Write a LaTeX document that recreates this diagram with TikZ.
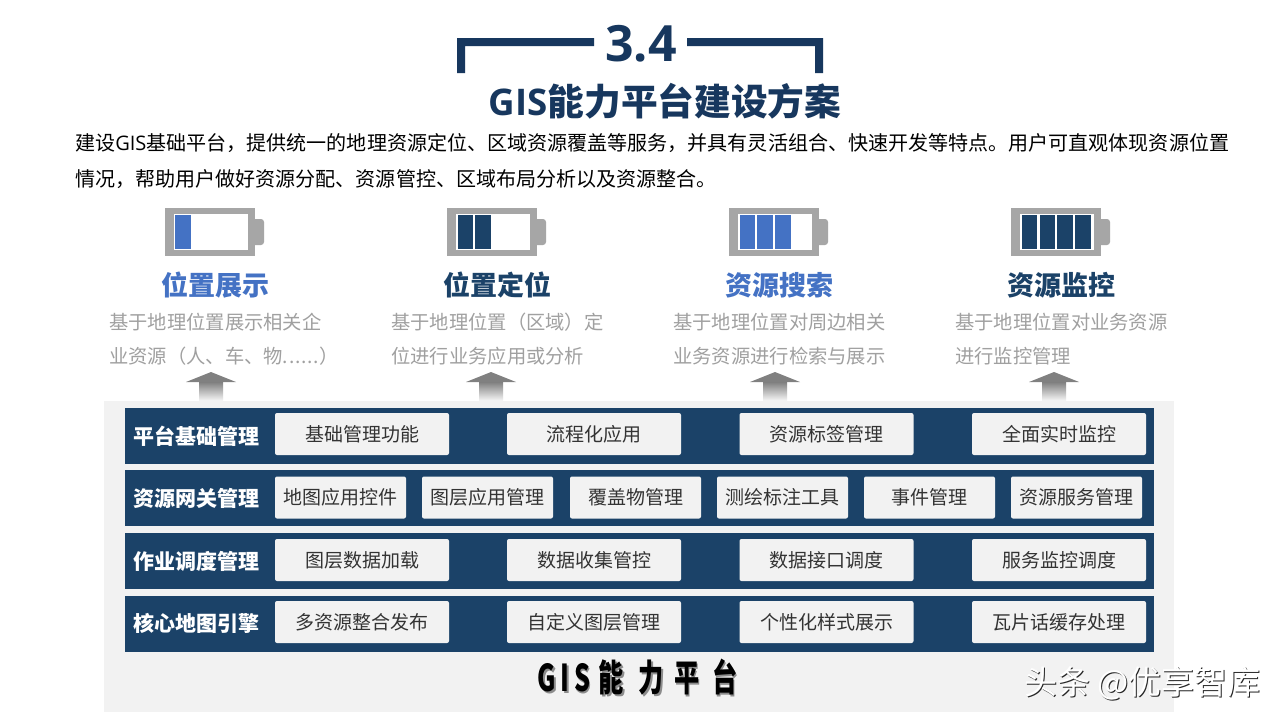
\documentclass[tikz,border=0pt]{standalone}
\usepackage{fontspec}
\usepackage{xcolor}
\setmainfont{Noto Sans CJK SC}
\newfontfamily\latinfont{Open Sans}
\usetikzlibrary{positioning}
\definecolor{navy}{HTML}{1B4268}
\definecolor{titleC}{HTML}{17375E}
\definecolor{blueC}{HTML}{4472C4}
\definecolor{battG}{HTML}{A6A6A6}
\definecolor{descG}{HTML}{A0A0A0}
\definecolor{panelG}{HTML}{F2F2F2}
\newcommand{\fsize}[1]{\fontsize{#1}{#1}\selectfont}
\newcommand{\foottext}{\scalebox{0.68}[1]{G\hspace{7pt}I\hspace{7pt}S\hspace{12pt}能\hspace{22pt}力\hspace{15pt}平\hspace{19pt}台}}
\tikzset{
  headB/.style={font=\fsize{27}\bfseries, text=blueC, inner sep=0pt},
  headN/.style={font=\fsize{27}\bfseries, text=navy, inner sep=0pt},
  desc/.style={font=\fsize{19.3}, text=descG, anchor=west, inner sep=0pt},
  para/.style={font=\fsize{20.05}, text=black, anchor=west, inner sep=0pt},
  rowlabel/.style={font=\fsize{21}\bfseries, text=white, anchor=west, inner sep=0pt},
  wide/.style={fill=panelG, rounded corners=2pt, minimum width=174, minimum height=42, inner sep=0pt, font=\fsize{19}, text=black!80},
  narrow/.style={wide, minimum width=131},
  band/.style={fill=navy},
  batt/.style={fill=battG}
}
\begin{document}
\begin{tikzpicture}[x=1pt, y=-1pt]
\useasboundingbox (0,0) rectangle (1280,720);
\fill[white] (0,0) rectangle (1280,720);
% heading
\fill[titleC] (457,73) -- (457,38) -- (594,38) -- (594,46) -- (465,46) -- (465,73) -- cycle;
\fill[titleC] (823,73) -- (823,38) -- (687,38) -- (687,46) -- (815,46) -- (815,73) -- cycle;
\node[font=\fsize{50}\latinfont\bfseries, text=titleC, inner sep=0pt] (num) at (641,44) {3.4};
\node[font=\fsize{36.7}\bfseries, text=titleC, inner sep=0pt] (title) at (665,101) {{\latinfont GIS}能力平台建设方案};
\node[para] (para1) at (75,143) {建设{\latinfont GIS}基础平台，提供统一的地理资源定位、区域资源覆盖等服务，并具有灵活组合、快速开发等特点。用户可直观体现资源位置};
\node[para] (para2) at (75,179) {情况，帮助用户做好资源分配、资源管控、区域布局分析以及资源整合。};
% batteries
\fill[batt] (165,208) rectangle (255,256); \fill[batt, rounded corners=3pt] (250,219) rectangle (264,245);
\fill[white] (174,214) rectangle (248,250);
\fill[blueC] (175,215) rectangle (191,249);
\fill[batt] (447,208) rectangle (537,256); \fill[batt, rounded corners=3pt] (532,219) rectangle (546,245);
\fill[white] (456,214) rectangle (530,250);
\fill[navy] (458,215) rectangle (473,249); \fill[navy] (475,215) rectangle (491,249);
\fill[batt] (729,208) rectangle (819,256); \fill[batt, rounded corners=3pt] (814,219) rectangle (828,245);
\fill[white] (738,214) rectangle (812,250);
\fill[blueC] (740,215) rectangle (755,249); \fill[blueC] (757,215) rectangle (773,249); \fill[blueC] (775,215) rectangle (791,249);
\fill[batt] (1011,208) rectangle (1101,256); \fill[batt, rounded corners=3pt] (1096,219) rectangle (1110,245);
\fill[white] (1020,214) rectangle (1094,250);
\fill[navy] (1022,215) rectangle (1037,249); \fill[navy] (1040,215) rectangle (1055,249);
\fill[navy] (1057,215) rectangle (1073,249); \fill[navy] (1075,215) rectangle (1091,249);
% columns
\node[headB] (head1) at (215,285) {位置展示};
\node[headN] (head2) at (497,285) {位置定位};
\node[headB] (head3) at (779,285) {资源搜索};
\node[headN] (head4) at (1061,285) {资源监控};
\node[desc] (d1a) at (109,322) {基于地理位置展示相关企};
\node[desc] (d1b) at (109,356.5) {业资源（人、车、物{\addfontfeature{LetterSpace=4.3}......}）};
\node[desc] (d2a) at (391,322) {基于地理位置（区域）定};
\node[desc] (d2b) at (391,356.5) {位进行业务应用或分析};
\node[desc] (d3a) at (673,322) {基于地理位置对周边相关};
\node[desc] (d3b) at (673,356.5) {业务资源进行检索与展示};
\node[desc] (d4a) at (955,322) {基于地理位置对业务资源};
\node[desc] (d4b) at (955,356.5) {进行监控管理};
% panel
\fill[panelG] (104,401) rectangle (1174,712);
% arrows
\fill[black!50] (211,372) -- (236,382) -- (186,382) -- cycle;
\shade[top color=black!50, bottom color=panelG] (199,382) rectangle (223,400);
\fill[black!50] (491,372) -- (516,382) -- (466,382) -- cycle;
\shade[top color=black!50, bottom color=panelG] (479,382) rectangle (503,400);
\fill[black!50] (775,372) -- (800,382) -- (750,382) -- cycle;
\shade[top color=black!50, bottom color=panelG] (763,382) rectangle (787,400);
\fill[black!50] (1054,372) -- (1079,382) -- (1029,382) -- cycle;
\shade[top color=black!50, bottom color=panelG] (1042,382) rectangle (1066,400);
% rows
\fill[band] (125,408) rectangle (1154,464);
\fill[band] (125,470) rectangle (1154,526);
\fill[band] (125,533) rectangle (1154,589);
\fill[band] (125,596) rectangle (1154,652);
\node[rowlabel] (row1) at (133,436) {平台基础管理};
\node[rowlabel] (row2) at (133,498) {资源网关管理};
\node[rowlabel] (row3) at (133,561) {作业调度管理};
\node[rowlabel] (row4) at (133,623) {核心地图引擎};
\node[wide] (a1) at (362,434) {基础管理功能};
\node[wide] (a2) at (594,434) {流程化应用};
\node[wide] (a3) at (826.5,434) {资源标签管理};
\node[wide] (a4) at (1059,434) {全面实时监控};
\node[narrow] (b1) at (340.5,497.5) {地图应用控件};
\node[narrow] (b2) at (487.5,497.5) {图层应用管理};
\node[narrow] (b3) at (635.5,497.5) {覆盖物管理};
\node[narrow] (b4) at (782.5,497.5) {测绘标注工具};
\node[narrow] (b5) at (929.5,497.5) {事件管理};
\node[narrow] (b6) at (1076.5,497.5) {资源服务管理};
\node[wide] (c1) at (362,560) {图层数据加载};
\node[wide] (c2) at (594,560) {数据收集管控};
\node[wide] (c3) at (826.5,560) {数据接口调度};
\node[wide] (c4) at (1059,560) {服务监控调度};
\node[wide] (e1) at (362,622) {多资源整合发布};
\node[wide] (e2) at (594,622) {自定义图层管理};
\node[wide] (e3) at (826.5,622) {个性化样式展示};
\node[wide] (e4) at (1059,622) {瓦片话缓存处理};
% footer
\node[font=\fsize{37}\bfseries, text=black!45, inner sep=0pt] (footS) at (639,679) {\foottext};
\node[font=\fsize{37}\bfseries, text=black, inner sep=0pt] (foot) at (637.5,677.5) {\foottext};
\node[font=\fsize{33}, text=black!85, inner sep=0pt] (markS) at (1143.5,684) {头条 @优享智库};
\node[font=\fsize{33}, text=white, inner sep=0pt] (mark) at (1142.5,683) {头条 @优享智库};
\end{tikzpicture}
\end{document}
